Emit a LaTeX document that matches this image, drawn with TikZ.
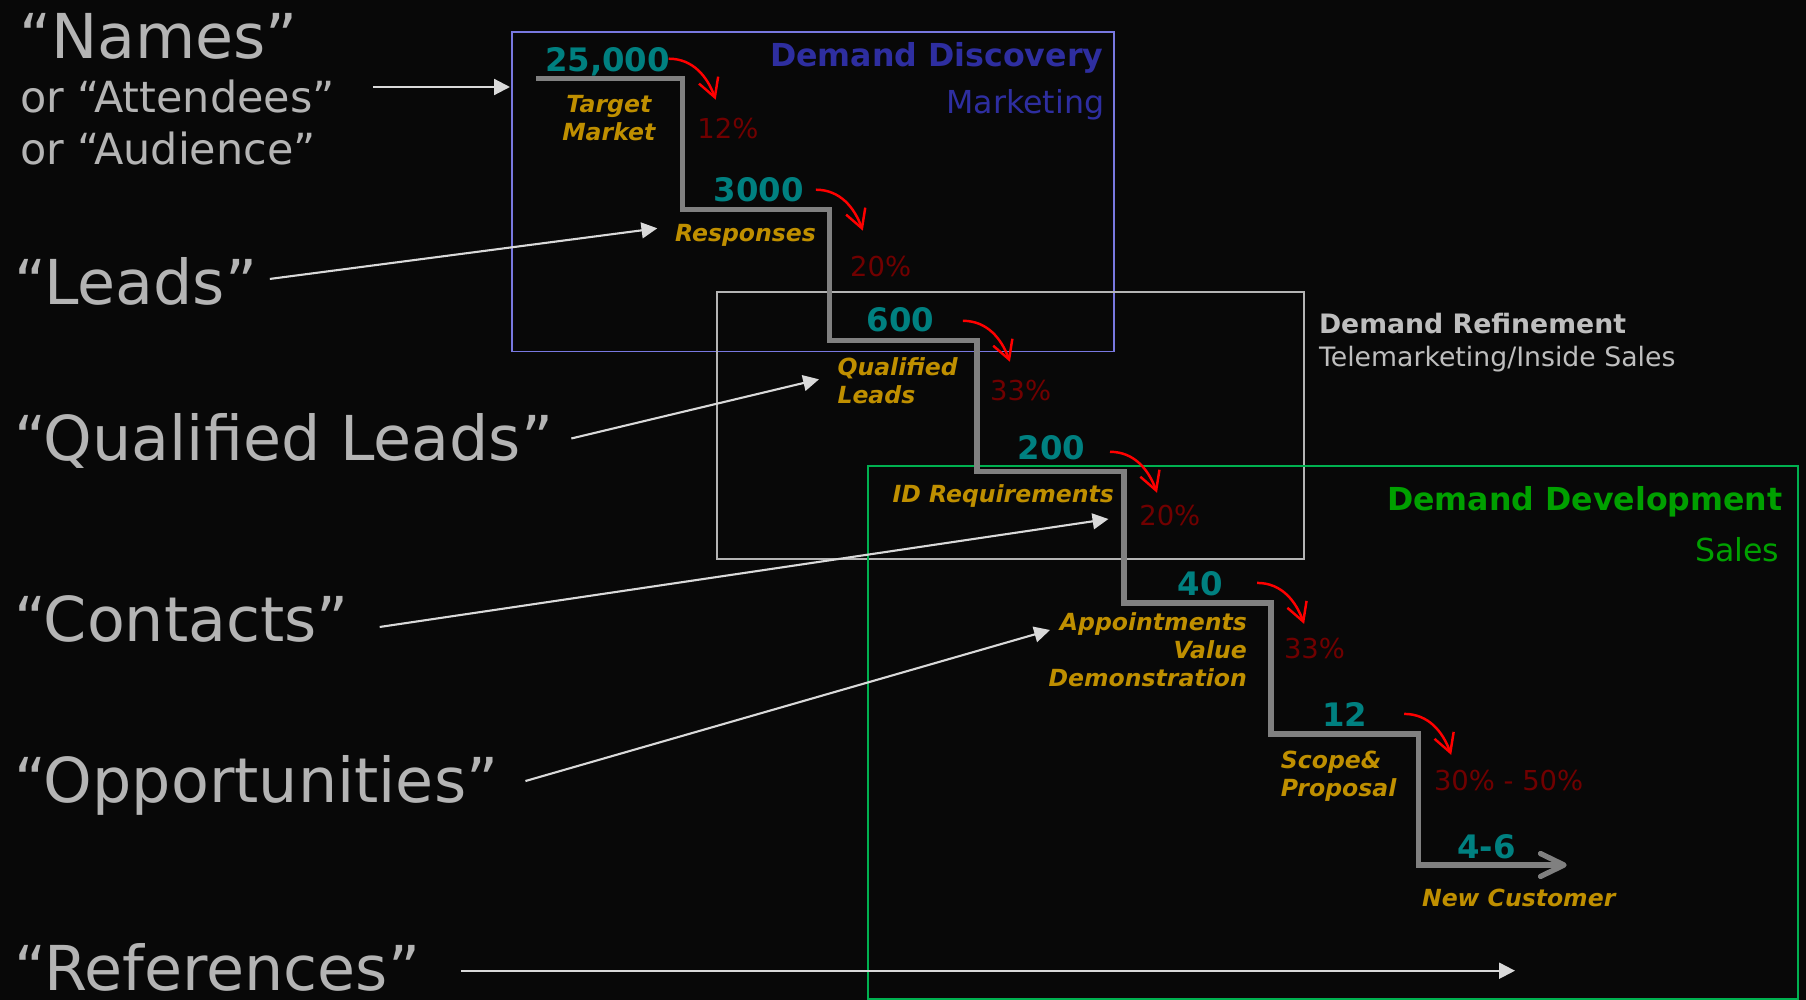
\documentclass[tikz,border=0pt]{standalone}
\usepackage{fontspec}
\setmainfont{DejaVu Sans}
\usetikzlibrary{arrows.meta}

\definecolor{bg}{RGB}{8,8,8}
\definecolor{labelgray}{RGB}{180,180,180}
\definecolor{pointergray}{RGB}{217,217,217}
\definecolor{stepgray}{RGB}{128,128,128}
\definecolor{numteal}{RGB}{0,128,128}
\definecolor{stagegold}{RGB}{191,143,0}
\definecolor{ratered}{RGB}{112,0,0}
\definecolor{mktline}{RGB}{120,120,224}
\definecolor{mkttext}{RGB}{46,46,160}
\definecolor{teleline}{RGB}{180,180,180}
\definecolor{teletext}{RGB}{190,190,190}
\definecolor{salesline}{RGB}{0,176,80}
\definecolor{salestext}{RGB}{0,160,0}

\begin{document}
\begin{tikzpicture}[x=0.01cm,y=-0.01cm,
  bigname/.style={text=labelgray,font=\fontsize{17.6}{21}\selectfont,inner sep=0pt,anchor=base west},
  altname/.style={text=labelgray,font=\fontsize{12.2}{14.6}\selectfont,inner sep=0pt,anchor=base west},
  tally/.style={text=numteal,font=\fontsize{9.2}{11}\selectfont\bfseries,inner sep=0pt,anchor=base},
  stage/.style={text=stagegold,font=\fontsize{6.7}{8}\selectfont\bfseries\itshape,inner sep=0pt},
  rate/.style={text=ratered,font=\fontsize{7.8}{9}\selectfont,inner sep=0pt,anchor=base west},
  title/.style={font=\fontsize{9}{11}\selectfont,inner sep=0pt},
  subtitle/.style={text=teletext,font=\fontsize{7.6}{9}\selectfont,inner sep=0pt,anchor=base west},
  region/.style={line width=0.5pt},
  stair/.style={draw=stepgray,line width=1.5pt,-{Straight Barb[length=6.7pt,width=6.5pt,round]}},
  drop/.style={draw=red,line width=0.7pt,-{Straight Barb[length=5.2pt,width=5.8pt]}},
  pointer/.style={draw=pointergray,line width=0.6pt,-{Triangle[length=4.5pt,width=4.5pt]}}]
\useasboundingbox (0,0) rectangle (1806,1000);
\fill[bg] (0,0) rectangle (1806,1000);

\draw[region,draw=mktline] (512.3,32.3) rectangle (1114,351.5);
\draw[region,draw=teleline] (716.8,291.7) rectangle (1304,559.3);
\draw[region,draw=salesline] (867.9,465.7) rectangle (1797.7,999);

\node[title,text=mkttext,anchor=base east] (disc) at (1104,66.5) {\bfseries Demand Discovery};
\node[title,text=mkttext,anchor=base east] (mkt) at (1105,113) {Marketing};
\node[subtitle] (refine) at (1318.3,333.3) {\bfseries Demand Refinement};
\node[subtitle] (tele) at (1318.3,366) {Telemarketing/Inside Sales};
\node[title,text=salestext,anchor=base east] (devel) at (1783.3,510) {\bfseries Demand Development};
\node[title,text=salestext,anchor=base east] (sales) at (1780,561) {Sales};

\coordinate (s) at (536,78.7);
\coordinate (k1) at (682.7,78.7);
\coordinate (k2) at (829.8,209.7);
\coordinate (k3) at (976.9,340.8);
\coordinate (k4) at (1124,471.8);
\coordinate (k5) at (1271.1,602.9);
\coordinate (k6) at (1418.2,733.9);
\coordinate (e) at (1566.7,865);
\draw[stair] (s) -- (k1) |- (k2) |- (k3) |- (k4) |- (k5) |- (k6) |- (e);

\draw[drop] ([shift={(-14,-20)}]k1) to[out=0,in=110] ([shift={(33,21)}]k1);
\draw[drop] ([shift={(-14,-20)}]k2) to[out=0,in=110] ([shift={(33,21)}]k2);
\draw[drop] ([shift={(-14,-20)}]k3) to[out=0,in=110] ([shift={(33,21)}]k3);
\draw[drop] ([shift={(-14,-20)}]k4) to[out=0,in=110] ([shift={(33,21)}]k4);
\draw[drop] ([shift={(-14,-20)}]k5) to[out=0,in=110] ([shift={(33,21)}]k5);
\draw[drop] ([shift={(-14,-20)}]k6) to[out=0,in=110] ([shift={(33,21)}]k6);

\node[tally] (n1) at (607.5,71.7) {25,000};
\node[tally] (n2) at (758.5,201) {3000};
\node[tally] (n3) at (900.7,331.5) {600};
\node[tally] (n4) at (1051.7,459) {200};
\node[tally] (n5) at (1200,595) {40};
\node[tally] (n6) at (1344.7,726.8) {12};
\node[tally] (n7) at (1486.5,858) {4-6};

\node[rate] (r1) at (696.7,138.3) {12\%};
\node[rate] (r2) at (849.5,276.7) {20\%};
\node[rate] (r3) at (989.4,400) {33\%};
\node[rate] (r4) at (1138.6,525.7) {20\%};
\node[rate] (r5) at (1283.3,658.3) {33\%};
\node[rate] (r6) at (1433.3,790) {30\% - 50\%};

\node[stage,align=center] (target) at (608.8,118.2) {Target\\Market};
\node[stage,anchor=base] (resp) at (745.5,241.7) {Responses};
\node[stage,align=left,anchor=west] (qual) at (836.8,381) {Qualified\\Leads};
\node[stage,anchor=base east] (idreq) at (1114.6,502.7) {ID Requirements};
\node[stage,align=right,anchor=east] (appt) at (1247.5,650) {Appointments\\Value\\Demonstration};
\node[stage,align=left,anchor=west] (scope) at (1280.2,776) {Scope\&\\Proposal};
\node[stage,anchor=base] (newcust) at (1518.7,906.7) {New Customer};

\node[bigname] (names) at (18.3,58.3) {“Names”};
\node[altname] (attendees) at (19.3,112.7) {or “Attendees”};
\node[altname] (audience) at (19.3,164) {or “Audience”};
\node[bigname] (leads) at (13.3,304) {“Leads”};
\node[bigname] (qleads) at (13.3,460) {“Qualified Leads”};
\node[bigname] (contacts) at (13.3,641) {“Contacts”};
\node[bigname] (opps) at (13.3,802.7) {“Opportunities”};
\node[bigname] (refs) at (13.3,990) {“References”};

\coordinate (toMkt) at (510,87);
\coordinate (toResp) at (657.3,228.3);
\coordinate (toQual) at (819,379.3);
\coordinate (toID) at (1108.4,519);
\coordinate (toAppt) at (1050,630);
\coordinate (toNew) at (1515,970.7);
\draw[pointer,shorten <=0.38cm] (toMkt -| attendees.east) -- (toMkt);
\draw[pointer] ([shift={(12,-2)}]leads.east) -- (toResp);
\draw[pointer] ([shift={(17.5,-2)}]qleads.east) -- (toQual);
\draw[pointer] ([shift={(30,8.5)}]contacts.east) -- (toID);
\draw[pointer] ([shift={(26.5,-4.6)}]opps.east) -- (toAppt);
\draw[pointer,shorten <=0.4cm] (toNew -| refs.east) -- (toNew);
\end{tikzpicture}
\end{document}
